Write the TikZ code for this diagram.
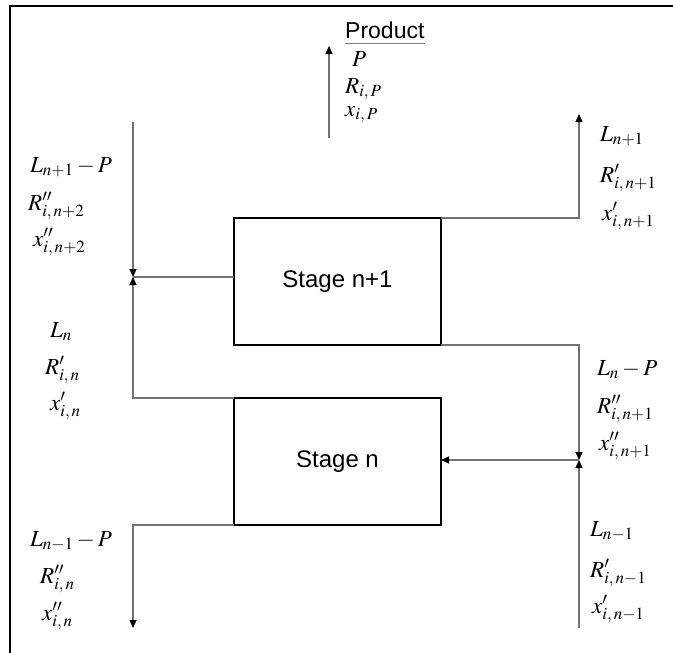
\documentclass[tikz,border=0pt]{standalone}
\usepackage{mathptmx}
\usepackage{fontspec}
\newfontfamily\arial{Liberation Sans}
\usetikzlibrary{arrows.meta}
\begin{document}
\begin{tikzpicture}[x=1pt,y=-1pt,
  flow/.style={draw=black!55,line width=1.2pt},
  tip/.style={-{Triangle[length=8pt,width=7pt,color=black]}},
  stagebox/.style={draw=black,line width=2pt,minimum width=207pt,minimum height=127pt,inner sep=0pt,outer sep=0pt,font=\arial\fontsize{24}{28}\selectfont},
  lab/.style={anchor=base west,inner sep=0pt,font=\fontsize{23}{27}\selectfont}]
\useasboundingbox (0,0) rectangle (673,653);
\draw[line width=2.5pt] (10,653) -- (10,6) -- (673,6);
% stages
\node[stagebox] (s1) at (337.5,281.5) {Stage n+1};
\node[stagebox] (s0) at (337.5,461.5) {Stage n};
% product
\node[anchor=base west,inner sep=0pt,font=\arial\fontsize{23}{28}\selectfont] (prod) at (345,38) {Product};
\draw[black!50,line width=1pt] ([yshift=-5pt]prod.base west) -- ([yshift=-5pt]prod.base east);
\coordinate (pa) at (329,138);
\coordinate (pb) at (329,46);
\draw[flow,tip] (pa) -- (pb);
\node[lab] (pP) at (352,66) {$P$};
\node[lab] (pR) at (345,93) {$R_{i,\,P}$};
\node[lab] (px) at (345,116) {$x_{i,\,P}$};
% left top
\coordinate (ltop) at (133,122);
\coordinate (lmeet) at (133,277);
\draw[flow,tip] (ltop) -- (lmeet);
\draw[flow] (s1.west |- lmeet) -- (lmeet);
\draw[flow,tip] (s0.north west) -| (lmeet);
\node[lab] (lt1) at (30,172) {$L_{n+1}-P$};
\node[lab] (lt2) at (28,210) {$R^{\prime\prime}_{i,\,n+2}$};
\node[lab] (lt3) at (33,246) {$x^{\prime\prime}_{i,\,n+2}$};
% left middle
\node[lab] (lm1) at (50,337) {$L_{n}$};
\node[lab] (lm2) at (45,374) {$R^{\prime}_{i,\,n}$};
\node[lab] (lm3) at (50,410) {$x^{\prime}_{i,\,n}$};
% left bottom
\coordinate (lbot) at (133,628);
\draw[flow,tip] (s0.south west) -| (lbot);
\node[lab] (lb1) at (30,546) {$L_{n-1}-P$};
\node[lab] (lb2) at (40,583) {$R^{\prime\prime}_{i,\,n}$};
\node[lab] (lb3) at (42,620) {$x^{\prime\prime}_{i,\,n}$};
% right top
\coordinate (rtop) at (579,114);
\draw[flow,tip] (s1.north east) -| (rtop);
\node[lab] (rt1) at (600,141) {$L_{n+1}$};
\node[lab] (rt2) at (600,182) {$R^{\prime}_{i,\,n+1}$};
\node[lab] (rt3) at (602,220) {$x^{\prime}_{i,\,n+1}$};
% right middle
\coordinate (rmeet) at (579,460);
\coordinate (rbot) at (579,628);
\draw[flow,tip] (s1.south east) -| (rmeet);
\draw[flow,tip] (rbot) -- (rmeet);
\draw[flow,tip] (rmeet) -- (s0.east |- rmeet);
\node[lab] (rm1) at (597,375) {$L_{n}-P$};
\node[lab] (rm2) at (597,413) {$R^{\prime\prime}_{i,\,n+1}$};
\node[lab] (rm3) at (599,450) {$x^{\prime\prime}_{i,\,n+1}$};
% right bottom
\node[lab] (rb1) at (590,536) {$L_{n-1}$};
\node[lab] (rb2) at (590,577) {$R^{\prime}_{i,\,n-1}$};
\node[lab] (rb3) at (592,613) {$x^{\prime}_{i,\,n-1}$};
\end{tikzpicture}
\end{document}
